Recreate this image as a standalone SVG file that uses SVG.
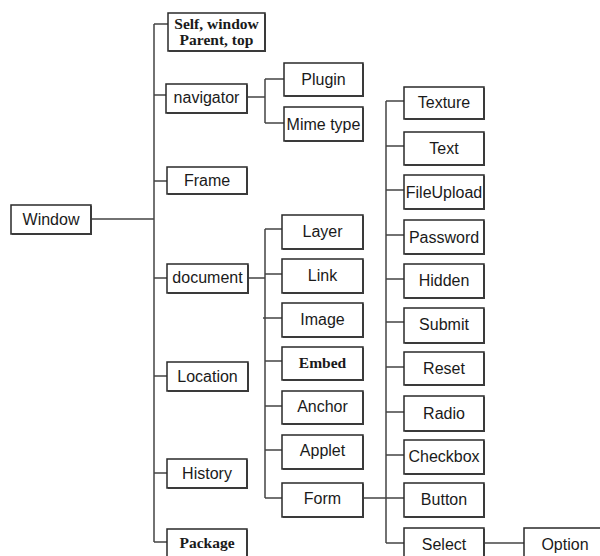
<svg xmlns="http://www.w3.org/2000/svg" width="600" height="556" viewBox="0 0 600 556">
<style>
.b{fill:#fff;stroke:#2a2a2a;stroke-width:1.5}
.s{fill:none;stroke:#3a3a3a;stroke-width:2}
.t{font-family:"Liberation Sans",Arial,sans-serif;font-size:16px;fill:#1a1a1a;text-anchor:middle;dominant-baseline:central}
.bt{font-family:"Liberation Serif","Times New Roman",serif;font-size:15.5px;font-weight:bold;fill:#1a1a1a;text-anchor:middle;dominant-baseline:central}
.c{fill:none;stroke:#444;stroke-width:1.5}
</style>
<rect width="600" height="556" fill="#fff"/>
<g id="connectors">
<path class="c" d="M91 219H154M154 24V542M154 24H168M154 95H166M154 181H167M154 278H167M154 376H167M154 473H167M154 542H167"/>
<path class="c" d="M247 97H265M265 79V123M265 79H284M265 123H284"/>
<path class="c" d="M248 278H265M265 229V498M265 229H282M265 274H282M263 318H282M265 361H282M265 406H282M265 450H282M265 498H282"/>
<path class="c" d="M363 498H404M386 101V543M386 101H404M386 146H404M386 190H404M386 235H404M386 279H404M386 322H404M386 367H404M386 412H404M386 455H404M386 543H404"/>
<path class="c" d="M484 543H524"/>
</g>
<g id="window"><rect class="b" x="11" y="205" width="80" height="29"/><path class="s" d="M12 234H91V206"/><text class="t" x="51" y="219.5">Window</text></g>
<g id="self"><rect class="b" x="168" y="13" width="97" height="38"/><path class="s" d="M169 51H265V14"/><text class="bt" x="216.5" y="23.5">Self, window</text><text class="bt" x="216.5" y="39.5">Parent, top</text></g>
<g id="navigator"><rect class="b" x="166" y="84" width="81" height="29"/><path class="s" d="M167 113H247V85"/><text class="t" x="206.5" y="97.5">navigator</text></g>
<g id="frame"><rect class="b" x="167" y="167" width="80" height="27"/><path class="s" d="M168 194H247V168"/><text class="t" x="207" y="180.5">Frame</text></g>
<g id="document"><rect class="b" x="167" y="264" width="81" height="29"/><path class="s" d="M168 293H248V265"/><text class="t" x="207.5" y="277.5">document</text></g>
<g id="location"><rect class="b" x="167" y="362" width="81" height="29"/><path class="s" d="M168 391H248V363"/><text class="t" x="207.5" y="376">Location</text></g>
<g id="history"><rect class="b" x="167" y="459" width="80" height="29"/><path class="s" d="M168 488H247V460"/><text class="t" x="207" y="473">History</text></g>
<g id="package"><rect class="b" x="167" y="529" width="80" height="30"/><path class="s" d="M247 530V556"/><text class="bt" x="207" y="542">Package</text></g>
<g id="plugin"><rect class="b" x="284" y="63" width="79" height="33"/><path class="s" d="M285 96H363V64"/><text class="t" x="323.5" y="79">Plugin</text></g>
<g id="mimetype"><rect class="b" x="284" y="107" width="79" height="34"/><path class="s" d="M285 141H363V108"/><text class="t" x="323.5" y="124">Mime type</text></g>
<g id="layer"><rect class="b" x="282" y="215" width="81" height="34"/><path class="s" d="M283 249H363V216"/><text class="t" x="322.5" y="231">Layer</text></g>
<g id="link"><rect class="b" x="282" y="259" width="81" height="34"/><path class="s" d="M283 293H363V260"/><text class="t" x="322.5" y="275">Link</text></g>
<g id="image"><rect class="b" x="282" y="303" width="81" height="34"/><path class="s" d="M283 337H363V304"/><text class="t" x="322.5" y="319">Image</text></g>
<g id="embed"><rect class="b" x="282" y="347" width="81" height="33"/><path class="s" d="M283 380H363V348"/><text class="bt" x="322.5" y="362">Embed</text></g>
<g id="anchor"><rect class="b" x="282" y="391" width="81" height="33"/><path class="s" d="M283 424H363V392"/><text class="t" x="322.5" y="406">Anchor</text></g>
<g id="applet"><rect class="b" x="282" y="435" width="81" height="34"/><path class="s" d="M283 469H363V436"/><text class="t" x="322.5" y="450">Applet</text></g>
<g id="form"><rect class="b" x="282" y="483" width="81" height="34"/><path class="s" d="M283 517H363V484"/><text class="t" x="322.5" y="498">Form</text></g>
<g id="texture"><rect class="b" x="404" y="87" width="80" height="32"/><path class="s" d="M405 119H484V88"/><text class="t" x="444" y="102">Texture</text></g>
<g id="text"><rect class="b" x="404" y="132" width="80" height="33"/><path class="s" d="M405 165H484V133"/><text class="t" x="444" y="148">Text</text></g>
<g id="fileupload"><rect class="b" x="404" y="175" width="80" height="34"/><path class="s" d="M405 209H484V176"/><text class="t" x="444" y="192">FileUpload</text></g>
<g id="password"><rect class="b" x="404" y="220" width="80" height="34"/><path class="s" d="M405 254H484V221"/><text class="t" x="444" y="237">Password</text></g>
<g id="hidden"><rect class="b" x="404" y="264" width="80" height="34"/><path class="s" d="M405 298H484V265"/><text class="t" x="444" y="280">Hidden</text></g>
<g id="submit"><rect class="b" x="404" y="308" width="80" height="35"/><path class="s" d="M405 343H484V309"/><text class="t" x="444" y="324">Submit</text></g>
<g id="reset"><rect class="b" x="404" y="352" width="80" height="33"/><path class="s" d="M405 385H484V353"/><text class="t" x="444" y="368">Reset</text></g>
<g id="radio"><rect class="b" x="404" y="396" width="80" height="35"/><path class="s" d="M405 431H484V397"/><text class="t" x="444" y="413">Radio</text></g>
<g id="checkbox"><rect class="b" x="404" y="440" width="80" height="34"/><path class="s" d="M405 474H484V441"/><text class="t" x="444" y="456">Checkbox</text></g>
<g id="button"><rect class="b" x="404" y="483" width="80" height="34"/><path class="s" d="M405 517H484V484"/><text class="t" x="444" y="499">Button</text></g>
<g id="select"><rect class="b" x="404" y="528" width="80" height="32"/><path class="s" d="M484 529V556"/><text class="t" x="444" y="544">Select</text></g>
<g id="option"><rect class="b" x="524" y="528" width="82" height="32"/><text class="t" x="565" y="544">Option</text></g>
</svg>
